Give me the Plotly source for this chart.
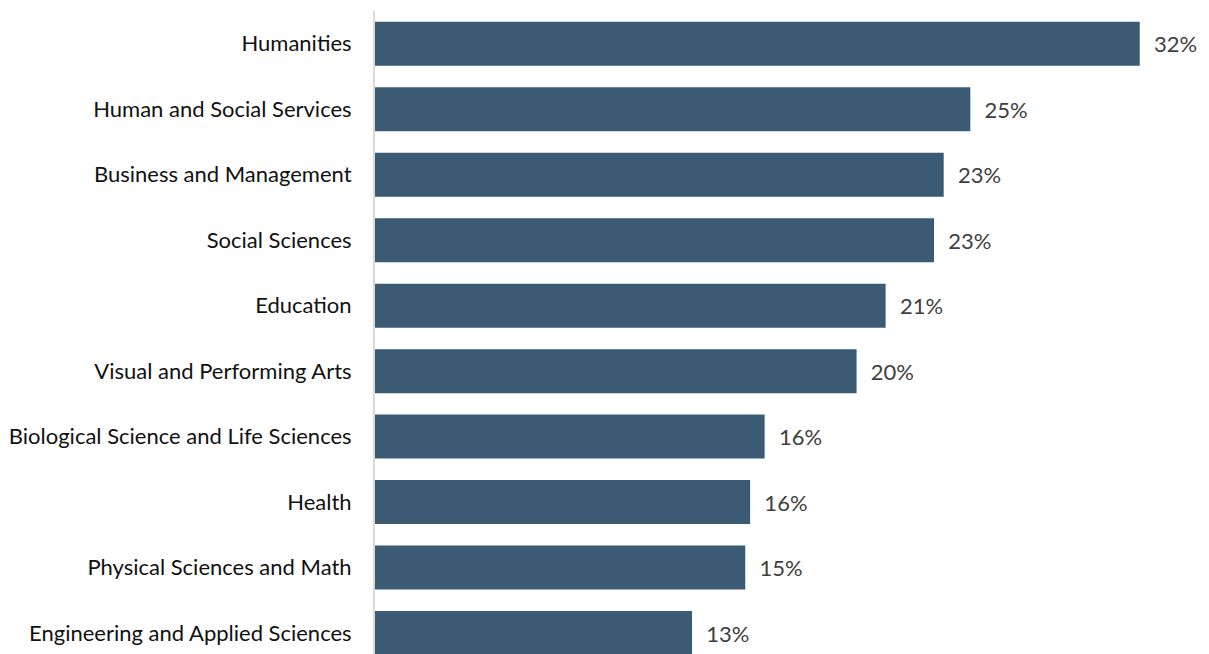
import plotly.graph_objects as go

categories = [
    "Humanities",
    "Human and Social Services",
    "Business and Management",
    "Social Sciences",
    "Education",
    "Visual and Performing Arts",
    "Biological Science and Life Sciences",
    "Health",
    "Physical Sciences and Math",
    "Engineering and Applied Sciences",
]
values = [31.6, 24.6, 23.5, 23.1, 21.1, 19.9, 16.1, 15.5, 15.3, 13.1]
value_labels = ["32%", "25%", "23%", "23%", "21%", "20%", "16%", "16%", "15%", "13%"]

fig = go.Figure(
    go.Bar(
        x=values,
        y=categories,
        orientation="h",
        width=0.672,
        marker=dict(color="#3a5b73", line=dict(width=0)),
        text=value_labels,
        texttemplate="  %{text}",
        textposition="outside",
        textfont=dict(family="Lato, Carlito, sans-serif", size=22, color="#404040"),
        cliponaxis=False,
        hoverinfo="skip",
    )
)

# page body has an 8px margin, so the figure is sized/offset to compensate
fig.update_layout(
    width=1201,
    height=646,
    margin=dict(l=367, r=0, t=3, b=0, autoexpand=False),
    paper_bgcolor="white",
    plot_bgcolor="white",
    showlegend=False,
    font=dict(family="Lato, Carlito, sans-serif"),
)
fig.update_xaxes(
    range=[0, 834 / 24.2],
    showgrid=False,
    zeroline=False,
    showticklabels=False,
    showline=False,
    automargin=False,
)
fig.update_yaxes(
    type="category",
    categoryorder="array",
    categoryarray=categories,
    range=[9.32, -0.5],
    showgrid=False,
    zeroline=False,
    showline=True,
    linecolor="#d9d9d9",
    linewidth=2,
    ticks="",
    ticklabelstandoff=17,
    automargin=False,
    tickfont=dict(family="Lato, Carlito, sans-serif", size=22, color="#111111"),
)

fig.write_html("out.html")
